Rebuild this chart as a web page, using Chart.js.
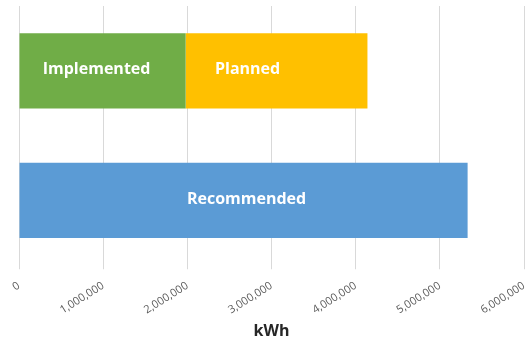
<!DOCTYPE html>
<html>
<head>
<meta charset="utf-8">
<script src="https://cdn.jsdelivr.net/npm/chart.js@4.4.1/dist/chart.umd.min.js"></script>
<style>
  html, body { margin: 0; padding: 0; background: #fff; }
  #wrap { width: 529px; height: 343px; position: relative; }
</style>
</head>
<body>
<div id="wrap"><canvas id="grafico"></canvas></div>
<script>
const filas = ['Progress', 'Target'];
const implementado = [1980000, null];
const planificado = [2160000, null];
const recomendado = [null, 5330000];
const ticksX = [0, 1000000, 2000000, 3000000, 4000000, 5000000, 6000000];

// escribe el nombre de cada serie dentro de su barra
const etiquetasBarras = {
  id: 'etiquetasBarras',
  afterDatasetsDraw(chart) {
    const ctx = chart.ctx;
    ctx.save();
    ctx.fillStyle = '#ffffff';
    ctx.font = 'bold 16px "Open Sans", sans-serif';
    ctx.textAlign = 'center';
    ctx.textBaseline = 'middle';
    chart.data.datasets.forEach((ds, i) => {
      const meta = chart.getDatasetMeta(i);
      meta.data.forEach((bar, j) => {
        if (ds.data[j] == null) return;
        const { x, base, y } = bar.getProps(['x', 'base', 'y'], true);
        ctx.fillText(ds.label, (x + base) / 2 + (ds.dx || 0), y - 1);
      });
    });
    ctx.restore();
  }
};

new Chart(document.getElementById('grafico').getContext('2d'), {
  type: 'bar',
  data: {
    labels: filas,
    datasets: [
      { label: 'Implemented', data: implementado, backgroundColor: '#70ad47', dx: -6 },
      { label: 'Planned', data: planificado, backgroundColor: '#ffc000', dx: -29 },
      { label: 'Recommended', data: recomendado, backgroundColor: '#5b9bd5', dx: 3 }
    ]
  },
  options: {
    indexAxis: 'y',
    responsive: true,
    maintainAspectRatio: false,
    animation: false,
    layout: { padding: { left: 19, right: 0, top: 6, bottom: 2 } },
    plugins: {
      legend: { display: false },
      tooltip: { enabled: false }
    },
    datasets: { bar: { categoryPercentage: 0.58, barPercentage: 1 } },
    scales: {
      x: {
        stacked: true,
        min: 0,
        max: 6000000,
        afterBuildTicks(axis) { axis.ticks = ticksX.map(v => ({ value: v })); },
        afterFit(axis) { axis.paddingRight = 5; },
        border: { display: false },
        grid: { color: '#d9d9d9', tickLength: 4 },
        ticks: {
          minRotation: 32,
          maxRotation: 32,
          padding: 10,
          color: '#595959',
          font: { family: '"Open Sans", sans-serif', size: 11 },
          callback: v => v.toLocaleString('en-US')
        },
        title: {
          display: true,
          text: 'kWh',
          color: '#262626',
          font: { family: '"Open Sans", sans-serif', size: 16, weight: 'bold' },
          padding: { top: -5, bottom: 0 }
        }
      },
      y: {
        stacked: true,
        display: false
      }
    }
  },
  plugins: [etiquetasBarras]
});
</script>
</body>
</html>
